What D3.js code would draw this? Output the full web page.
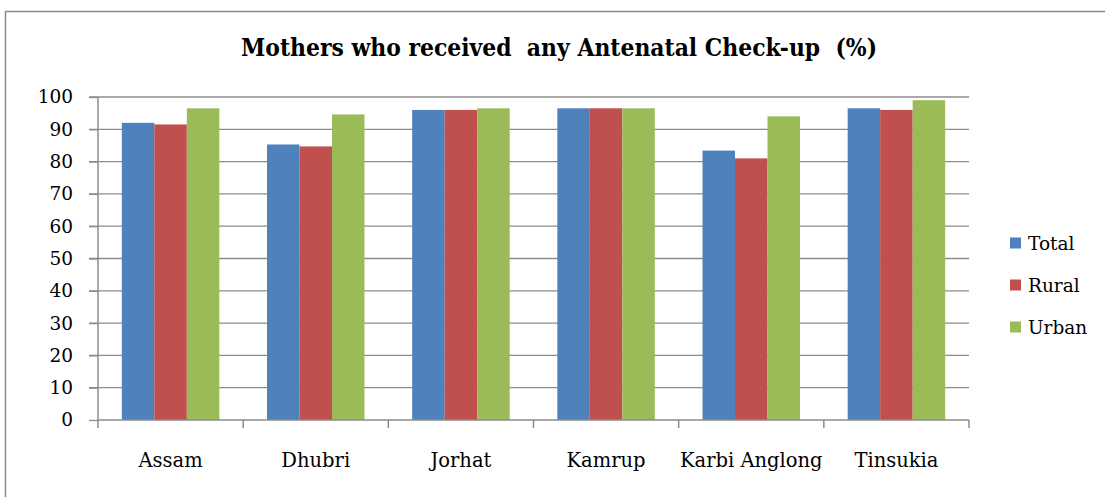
<!DOCTYPE html>
<html>
<head>
<meta charset="utf-8">
<script src="https://cdn.jsdelivr.net/npm/d3@7"></script>
<style>
  body { margin: 0; background: #fff; }
  svg { display: block; }
  svg text { font-family: "DejaVu Serif", serif; }
</style>
</head>
<body>
<svg width="1105" height="497"></svg>
<script>
// data
const districts = ['Assam', 'Dhubri', 'Jorhat', 'Kamrup', 'Karbi Anglong', 'Tinsukia'];
const seriesNames = ['Total', 'Rural', 'Urban'];
const total = [92.0, 85.3, 96.0, 96.5, 83.4, 96.5];
const rural = [91.5, 84.7, 96.0, 96.5, 81.0, 96.0];
const urban = [96.5, 94.6, 96.5, 96.5, 94.0, 99.0];
const yTicks = [0, 10, 20, 30, 40, 50, 60, 70, 80, 90, 100];
const colors = ['#4F81BD', '#C0504D', '#9BBB59'];

const values = [total, rural, urban];
const rows = districts.map((d, i) => ({
  name: d,
  vals: seriesNames.map((s, j) => ({ key: s, v: values[j][i] }))
}));

const svg = d3.select('svg');

// chart frame (only top/left visible in the reference)
svg.append('rect')
    .attr('x', 5.5).attr('y', 11.5)
    .attr('width', 1120).attr('height', 500)
    .attr('fill', 'none')
    .attr('stroke', '#8a8a8a')
    .attr('stroke-width', 1.5);

svg.append('text')
    .attr('x', 559).attr('y', 56)
    .attr('text-anchor', 'middle')
    .attr('font-size', 25)
    .attr('font-weight', 'bold')
    .attr('textLength', 636)
    .attr('lengthAdjust', 'spacingAndGlyphs')
    .style('white-space', 'pre')
    .text('Mothers who received  any Antenatal Check-up  (%)');

const x = d3.scaleBand().domain(districts).range([98, 969]).paddingInner(0).paddingOuter(0);
const groupW = 97.5;
const xi = d3.scaleBand().domain(seriesNames).range([0, groupW]);
const y = d3.scaleLinear().domain([0, 100]).range([420, 97]);

// gridlines
svg.append('g').selectAll('line')
    .data(yTicks.filter(t => t > 0))
    .enter().append('line')
    .attr('x1', 89).attr('x2', 969)
    .attr('y1', d => y(d)).attr('y2', d => y(d))
    .attr('stroke', '#8c8c8c')
    .attr('stroke-width', 1.3);

// bars
const groups = svg.append('g').selectAll('g')
    .data(rows)
    .enter().append('g')
    .attr('transform', d => `translate(${x(d.name) + (x.bandwidth() - groupW) / 2},0)`);

groups.selectAll('rect')
    .data(d => d.vals)
    .enter().append('rect')
    .attr('x', d => xi(d.key))
    .attr('width', xi.bandwidth())
    .attr('y', d => y(d.v))
    .attr('height', d => y(0) - y(d.v))
    .attr('fill', (d, i) => colors[i]);

// y axis
const yAxis = svg.append('g')
    .attr('transform', 'translate(98,0)')
    .call(d3.axisLeft(y).tickValues(yTicks).tickSize(9).tickPadding(16).tickFormat(d3.format('d')));
yAxis.attr('font-family', null).attr('font-size', 18.5);
yAxis.select('.domain').attr('stroke', '#8c8c8c').attr('stroke-width', 1.5).attr('d', `M0,${y(100)}V${y(0)}`);
yAxis.selectAll('.tick line').attr('stroke', '#8c8c8c').attr('stroke-width', 1.3);
yAxis.selectAll('.tick text').attr('fill', '#000');

// x axis
const xAxis = svg.append('g')
    .attr('transform', `translate(0,${y(0)})`)
    .call(d3.axisBottom(x).tickSize(0).tickPadding(33));
xAxis.attr('font-family', null).attr('font-size', 19.5);
xAxis.select('.domain').attr('stroke', '#8c8c8c').attr('stroke-width', 1.5).attr('d', 'M98,0H969');
xAxis.selectAll('.tick text').attr('fill', '#000');

// category separator ticks
const bounds = districts.map(d => x(d)).concat([x.range()[1]]);
xAxis.selectAll('.sep')
    .data(bounds)
    .enter().append('line')
    .attr('class', 'sep')
    .attr('x1', d => d).attr('x2', d => d)
    .attr('y1', 0).attr('y2', 8)
    .attr('stroke', '#8c8c8c')
    .attr('stroke-width', 1.5);

// legend
const legend = svg.append('g').selectAll('g')
    .data(seriesNames)
    .enter().append('g')
    .attr('transform', (d, i) => `translate(1010,${243 + i * 42})`);
legend.append('rect')
    .attr('x', 0).attr('y', -5.5)
    .attr('width', 11).attr('height', 11)
    .attr('fill', (d, i) => colors[i]);
legend.append('text')
    .attr('x', 18).attr('y', 6.5)
    .attr('font-size', 18.5)
    .text(d => d);
</script>
</body>
</html>
